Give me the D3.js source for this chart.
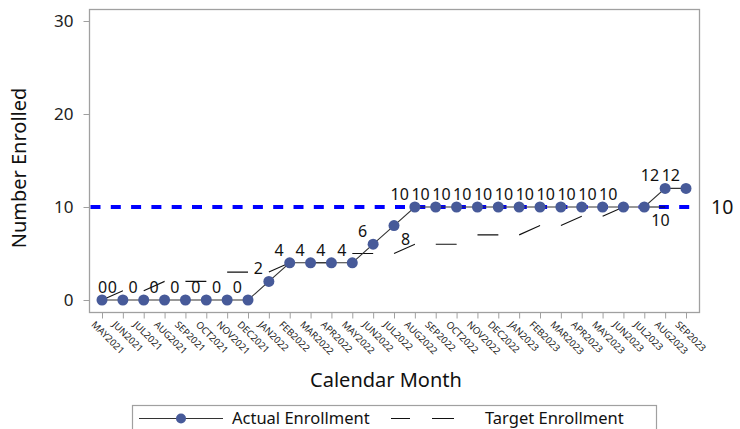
<!DOCTYPE html>
<html>
<head>
<meta charset="utf-8">
<script src="https://cdn.jsdelivr.net/npm/d3@7"></script>
<style>
  html, body { margin: 0; padding: 0; background: #fff; }
  svg { display: block; font-family: "Noto Sans", "Open Sans", sans-serif; }
</style>
</head>
<body>
<svg id="chart" width="740" height="429"></svg>
<script>
// ---- data ----
const months = ["MAY2021","JUN2021","JUL2021","AUG2021","SEP2021","OCT2021","NOV2021","DEC2021",
  "JAN2022","FEB2022","MAR2022","APR2022","MAY2022","JUN2022","JUL2022","AUG2022","SEP2022",
  "OCT2022","NOV2022","DEC2022","JAN2023","FEB2023","MAR2023","APR2023","MAY2023","JUN2023",
  "JUL2023","AUG2023","SEP2023"];
const actual = [0,0,0,0,0,0,0,0,2,4,4,4,4,6,8,10,10,10,10,10,10,10,10,10,10,10,10,12,12];
const target = [0,1,1,2,2,2,3,3,3,4,4,4,5,5,5,6,6,6,7,7,7,8,8,9,9,10,10,10,10];
const yTicks = [0,10,20,30];
const refValue = 10;
const seriesNames = ["Actual Enrollment", "Target Enrollment"];

// ---- layout ----
const svg = d3.select("#chart");
const frame = {x0: 89.5, x1: 699.5, y0: 9.5, y1: 312.5};
const x = d3.scalePoint().domain(months).range([102, 686]);
const y = d3.scaleLinear().domain([0, 30]).range([300, 21]);
const markerColor = "#475a99";

// frame
svg.append("rect")
  .attr("x", frame.x0).attr("y", frame.y0)
  .attr("width", frame.x1 - frame.x0).attr("height", frame.y1 - frame.y0)
  .attr("fill", "none").attr("stroke", "#a0a0a0").attr("stroke-width", 1.3);

// y axis
const yAxis = d3.axisLeft(y).tickValues(yTicks).tickSize(6).tickPadding(10);
const gy = svg.append("g").attr("transform", `translate(${frame.x0},0)`).call(yAxis);
gy.select(".domain").remove();
gy.selectAll(".tick line").attr("stroke", "#a0a0a0");
gy.selectAll(".tick text").attr("font-size", 17).attr("fill", "#222")
  .attr("font-family", "Noto Sans, sans-serif");

// x axis
const xAxis = d3.axisBottom(x).tickSize(6).tickPadding(4);
const gx = svg.append("g").attr("transform", `translate(0,${frame.y1})`).call(xAxis);
gx.select(".domain").remove();
gx.selectAll(".tick line").attr("stroke", "#a0a0a0");
gx.selectAll(".tick text")
  .attr("font-size", 9.6).attr("fill", "#222")
  .attr("font-family", "Noto Sans, sans-serif")
  .attr("text-anchor", "start")
  .attr("transform", "translate(-5,6) rotate(45)")
  .attr("dy", "0.35em").attr("y", 6);

// axis titles
svg.append("text").attr("x", 386).attr("y", 387).attr("text-anchor", "middle")
  .attr("font-size", 20).attr("fill", "#111").text("Calendar Month");
svg.append("text").attr("transform", "translate(26,168) rotate(-90)").attr("text-anchor", "middle")
  .attr("font-size", 20).attr("fill", "#111").text("Number Enrolled");

// reference line
svg.append("line")
  .attr("x1", frame.x0 + 1).attr("x2", frame.x1 - 1)
  .attr("y1", y(refValue)).attr("y2", y(refValue))
  .attr("stroke", "#0000ff").attr("stroke-width", 4)
  .attr("stroke-dasharray", "10,10.3");
svg.append("text").attr("x", 711).attr("y", y(refValue)).attr("dy", "0.36em")
  .attr("font-size", 19.5).attr("fill", "#111").text(String(refValue));

// target line: dashed pattern aligned to months (every other interval visible)
const tPts = months.map((m, i) => [x(m), y(target[i])]);
const segLens = [];
for (let i = 0; i < tPts.length - 1; i++) {
  segLens.push(Math.hypot(tPts[i+1][0] - tPts[i][0], tPts[i+1][1] - tPts[i][1]));
}
svg.append("path")
  .attr("d", d3.line()(tPts))
  .attr("fill", "none").attr("stroke", "#111").attr("stroke-width", 1.1)
  .attr("stroke-dasharray", segLens.map(l => l.toFixed(2)).join(","));

// actual line
svg.append("path")
  .attr("d", d3.line().x((d, i) => x(months[i])).y(d => y(d))(actual))
  .attr("fill", "none").attr("stroke", "#333").attr("stroke-width", 1.1);

// markers
svg.append("g").selectAll("circle").data(actual).join("circle")
  .attr("cx", (d, i) => x(months[i])).attr("cy", d => y(d))
  .attr("r", 5.5).attr("fill", markerColor);

// data labels (upper-left by default, a few moved to avoid collisions)
const placement = {MAY2021: "top", JUL2022: "lowright", JUL2023: "lowright"};
svg.append("g").selectAll("text").data(actual).join("text")
  .attr("font-size", 16).attr("fill", "#111")
  .each(function(d, i) {
    const px = x(months[i]), py = y(d);
    const p = placement[months[i]] || "upleft";
    const t = d3.select(this).text(String(d));
    if (p === "upleft") t.attr("x", px - 6).attr("y", py - 7).attr("text-anchor", "end");
    else if (p === "top") t.attr("x", px - 4).attr("y", py - 7).attr("text-anchor", "start");
    else t.attr("x", px + 7).attr("y", py + 19).attr("text-anchor", "start");
  });

// legend
const lg = svg.append("g");
lg.append("rect").attr("x", 132.5).attr("y", 405.5).attr("width", 524).attr("height", 40)
  .attr("fill", "none").attr("stroke", "#a0a0a0").attr("stroke-width", 1.2);
lg.append("line").attr("x1", 139).attr("x2", 223).attr("y1", 418.5).attr("y2", 418.5)
  .attr("stroke", "#333").attr("stroke-width", 1.1);
lg.append("circle").attr("cx", 181).attr("cy", 418.5).attr("r", 5).attr("fill", markerColor);
lg.append("text").attr("x", 232).attr("y", 418.5).attr("dy", "0.36em")
  .attr("font-size", 16.5).attr("fill", "#111").text(seriesNames[0]);
lg.append("line").attr("x1", 391).attr("x2", 454).attr("y1", 418.5).attr("y2", 418.5)
  .attr("stroke", "#111").attr("stroke-width", 1.1).attr("stroke-dasharray", "19,22,22");
lg.append("text").attr("x", 485).attr("y", 418.5).attr("dy", "0.36em")
  .attr("font-size", 16.5).attr("fill", "#111").text(seriesNames[1]);
</script>
</body>
</html>
